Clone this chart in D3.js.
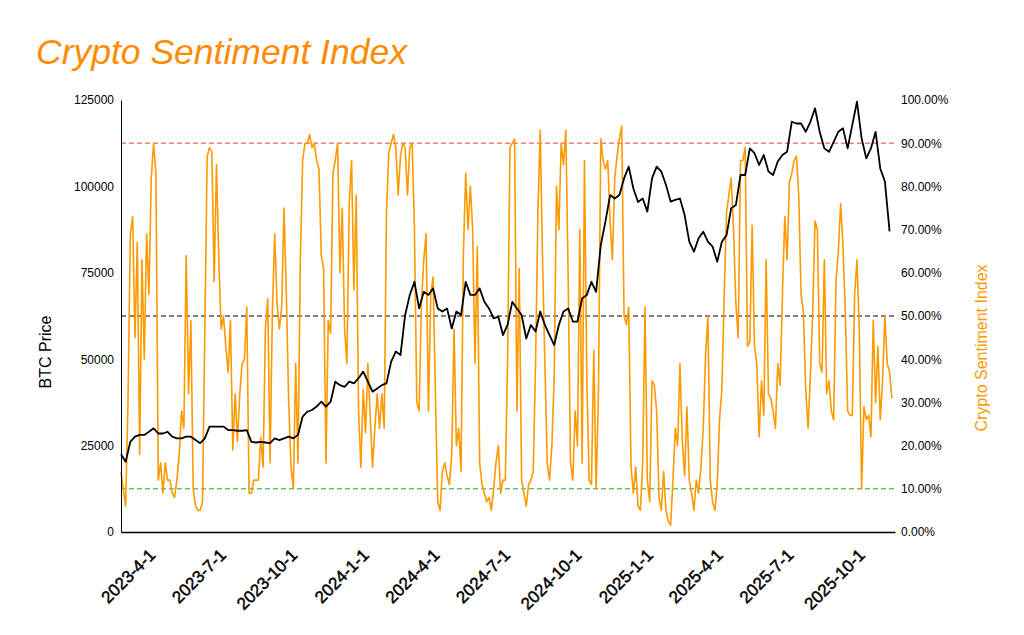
<!DOCTYPE html>
<html>
<head>
  <meta charset="UTF-8" />
  <title>Crypto Sentiment Index</title>
  <script src="https://d3js.org/d3.v7.min.js"></script>
  <style>
    body { margin: 0; background: #fff; font-family: "Liberation Sans", Arial, sans-serif; }
  </style>
</head>
<body>
  <div id="chart"></div>

  <script>
    // ---- data ----
    const startDate = "2023-02-24";

    // sentiment index in %, one value every 3 days
    const sentimentStepDays = 3;
    const sentiment = [
      14,10,6,30,69,73,45,67,18,63,
      40,69,55,82,90,83,12,16,9,16,
      12,12,9,8,12,18,28,24,64,32,
      49,10,6,5,5,7,47,87,89,88,
      58,85,63,47,50,43,37,49,19,32,
      21,32,39,40,52,9,9,12,12,12,
      22,15,47,54,16,51,69,53,47,52,
      75,55,30,15,10,39,16,63,86,90,
      90,92,89,90,86,84,64,61,16,49,
      46,83,86,90,60,75,47,39,76,86,
      56,78,28,15,33,23,39,27,15,24,
      32,24,32,24,74,88,90,92,89,78,
      87,90,89,78,89,90,70,30,28,53,
      63,69,28,55,59,32,7,5,14,16,
      13,11,18,47,20,24,14,64,83,70,
      80,70,39,66,16,11,9,7,8,5,
      10,16,20,9,12,12,40,89,90,91,
      28,61,12,9,6,11,12,14,39,74,
      93,63,39,16,12,20,36,80,70,90,
      85,93,59,16,12,28,20,70,16,86,
      36,12,11,42,10,32,91,86,84,86,
      72,63,82,87,91,94,50,48,52,15,
      9,15,6,5,16,52,12,7,35,34,
      28,8,5,14,5,2.4,1.6,12,24,20,
      39,21,13,29,12,9,5,12,9,15,
      24,41,50,12,7,5,11,26,33,55,
      74,78,82,70,53,45,86,86,89,43,
      44,71,43,39,22,35,27,63,32,31,
      28,24,39,34,55,73,63,81,83,86,
      87,78,55,51,33,24,36,51,72,70,
      39,37,63,32,35,28,26,58,65,76,
      66,51,28,27,27,55,63,47,10,29,
      26,27,22,49,30,43,26,35,50,39,
      37,31
    ];

    // BTC price in thousand USD, one value every 6 days
    const btcStepDays = 6;
    const btcPrice = [
      22.5,20.3,26.1,27.6,28.1,28.1,29,30,28.5,28.5,
      29,27.6,27.1,27.1,27.6,27.6,26.6,25.7,27.1,30.5,
      30.5,30.5,30.5,29.5,29.5,29.3,29.3,29.5,26.1,25.9,
      26.1,25.9,25.7,27.1,26.6,27.1,27.6,27.1,28.1,33.4,
      34.8,35.3,36.3,37.7,36.3,37.7,43.5,42.5,42,43.5,
      43,44.5,46.4,43.5,40.6,41.5,42.5,43,49.3,52.2,
      51.2,62.8,68.6,72.4,64.7,69.5,68.6,70.5,64.7,63.8,
      64.7,58.9,63.8,62.8,72.4,68.6,68.6,70.5,66.6,64.7,
      61.8,62.3,57,60,66.6,64.7,62.8,56,59.9,58,
      63.8,59.9,57,54.1,59.9,63.8,64.7,60.9,60.9,67.6,
      68.6,72.4,69.5,83,89.8,97.5,96.5,97.5,102.3,105.7,
      99.4,95.5,96.5,92.7,102.3,105.7,104.3,100.4,95.6,96.1,
      96.5,91.7,84,81.1,85,86.9,84,82.6,78.2,84,
      85.9,93.7,94.6,103.3,103.3,111,109.6,106.2,109.1,104.3,
      103.3,107.2,109.1,110,118.7,118.2,118.2,115.8,118.7,122.6,
      115.8,111,110,112.9,115.8,116.8,111,117.8,124.5,113.9,
      108.1,111,115.8,105.2,101.4,87
    ];

    const xTickLabels = ["2023-4-1", "2023-7-1", "2023-10-1", "2024-1-1", "2024-4-1", "2024-7-1",
      "2024-10-1", "2025-1-1", "2025-4-1", "2025-7-1", "2025-10-1"];
    const priceTicks = [0, 25000, 50000, 75000, 100000, 125000];
    const sentimentTicks = [0, 10, 20, 30, 40, 50, 60, 70, 80, 90, 100];
    const levelLines = [90, 50, 10];
    const levelColors = ["#e8453c", "#000000", "#2ca02c"];

    // ---- chart ----
    const width = 1024, height = 635;
    const margin = { top: 100, right: 129, bottom: 103, left: 121 };
    const w = width - margin.left - margin.right;
    const h = height - margin.top - margin.bottom;

    const parseDate = d3.timeParse("%Y-%m-%d");
    const t0 = parseDate(startDate);

    const sentData = sentiment.map((v, i) => ({ date: d3.timeDay.offset(t0, i * sentimentStepDays), value: v }));
    const btcData = btcPrice.map((v, i) => ({ date: d3.timeDay.offset(t0, i * btcStepDays), value: v * 1000 }));

    const svg = d3.select("#chart")
      .append("svg")
      .attr("width", width)
      .attr("height", height);

    // title
    svg.append("text")
      .attr("x", 36)
      .attr("y", 64)
      .attr("fill", "#ff8c00")
      .style("font-size", "35.5px")
      .style("font-style", "italic")
      .text("Crypto Sentiment Index");

    const g = svg.append("g")
      .attr("transform", "translate(" + margin.left + "," + margin.top + ")");

    const xScale = d3.scaleTime()
      .domain([t0, d3.timeDay.offset(t0, 997)])
      .range([0, w]);
    const yPrice = d3.scaleLinear().domain([0, 125000]).range([h, 0]);
    const ySent = d3.scaleLinear().domain([0, 100]).range([h, 0]);

    // reference levels
    g.selectAll(".level")
      .data(levelLines)
      .enter()
      .append("line")
      .attr("class", "level")
      .attr("x1", 0)
      .attr("x2", w)
      .attr("y1", d => ySent(d))
      .attr("y2", d => ySent(d))
      .attr("stroke", (d, i) => levelColors[i])
      .attr("stroke-width", 1)
      .attr("stroke-dasharray", "5,3");

    // sentiment line
    g.append("path")
      .datum(sentData)
      .attr("fill", "none")
      .attr("stroke", "#ff9900")
      .attr("stroke-width", 1.6)
      .attr("stroke-linejoin", "round")
      .attr("d", d3.line().x(d => xScale(d.date)).y(d => ySent(d.value)));

    // BTC line
    g.append("path")
      .datum(btcData)
      .attr("fill", "none")
      .attr("stroke", "#000")
      .attr("stroke-width", 1.8)
      .attr("stroke-linejoin", "round")
      .attr("d", d3.line().x(d => xScale(d.date)).y(d => yPrice(d.value)));

    // axes
    const tickParse = d3.timeParse("%Y-%m-%d");
    const xAxis = g.append("g")
      .attr("transform", "translate(0," + h + ")")
      .call(d3.axisBottom(xScale)
        .tickValues(xTickLabels.map(s => tickParse(s)))
        .tickSize(0)
        .tickSizeOuter(0)
        .tickFormat(d3.timeFormat("%Y-%-m-%-d")));
    xAxis.select(".domain").attr("stroke", "#000").attr("stroke-width", 1.5);
    xAxis.selectAll("text")
      .attr("x", 0)
      .attr("y", 0)
      .attr("dy", 0)
      .attr("transform", "translate(7,24) rotate(-45)")
      .style("text-anchor", "end")
      .style("font-size", "17px")
      .style("font-family", "'Liberation Sans', Arial, sans-serif")
      .attr("fill", "#000")
      .attr("stroke", "#000")
      .attr("stroke-width", 0.45);

    const yAxisL = g.append("g")
      .call(d3.axisLeft(yPrice)
        .tickValues(priceTicks)
        .tickSize(0)
        .tickSizeOuter(0)
        .tickPadding(7)
        .tickFormat(d3.format("d")));
    yAxisL.select(".domain").attr("stroke", "#000").attr("stroke-width", 1);
    yAxisL.selectAll("text")
      .style("font-size", "12px")
      .style("font-family", "'Liberation Sans', Arial, sans-serif")
      .attr("fill", "#000");

    const yAxisR = g.append("g")
      .attr("transform", "translate(" + w + ",0)")
      .call(d3.axisRight(ySent)
        .tickValues(sentimentTicks)
        .tickSize(0)
        .tickSizeOuter(0)
        .tickPadding(6)
        .tickFormat(d => d.toFixed(2) + "%"));
    yAxisR.select(".domain").remove();
    yAxisR.selectAll("text")
      .style("font-size", "12px")
      .style("font-family", "'Liberation Sans', Arial, sans-serif")
      .attr("fill", "#000");

    // axis titles
    svg.append("text")
      .attr("transform", "translate(51,352) rotate(-90)")
      .style("text-anchor", "middle")
      .style("font-size", "16px")
      .attr("fill", "#000")
      .text("BTC Price");

    svg.append("text")
      .attr("transform", "translate(987,348) rotate(-90)")
      .style("text-anchor", "middle")
      .style("font-size", "16px")
      .attr("fill", "#ff9900")
      .text("Crypto Sentiment Index");
  </script>
</body>
</html>
